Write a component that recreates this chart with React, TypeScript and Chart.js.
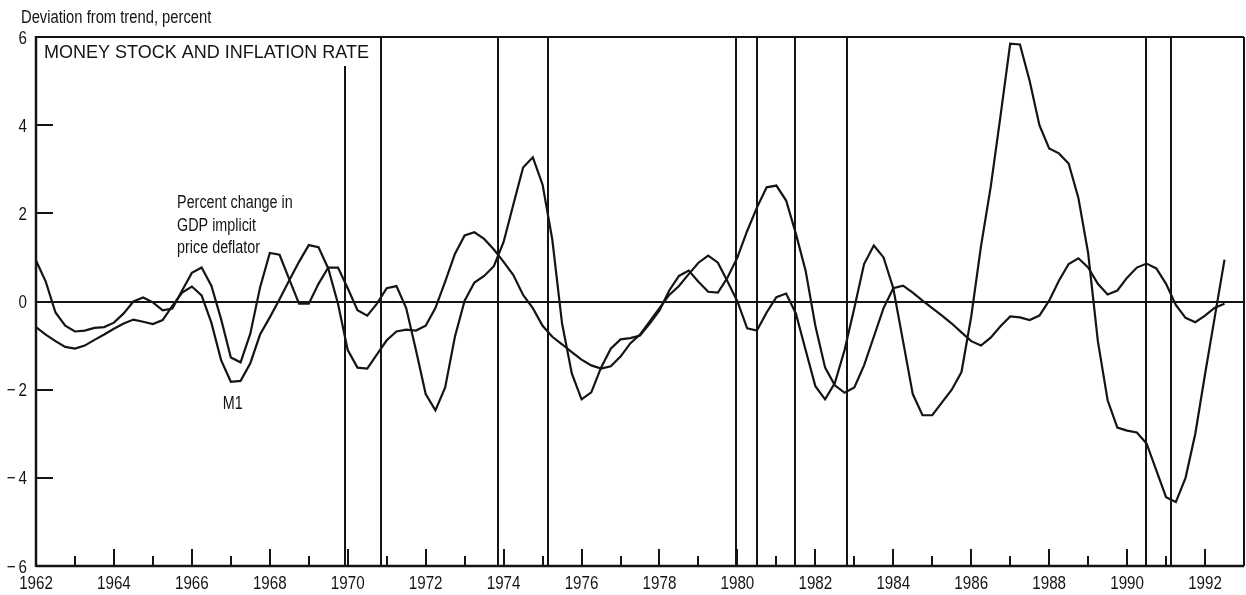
import React, { useEffect, useRef } from 'react';
import { Chart, registerables } from 'chart.js';

Chart.register(...registerables);

// ---------------- data ----------------
const START_YEAR = 1962; // first quarter plotted: 1962 Q1

// Percent change in GDP implicit price deflator, deviation from trend (quarterly)
const deflatorChange: number[] = [
  0.93, 0.45, -0.25, -0.55, -0.68, -0.66, -0.6, -0.58, -0.48, -0.27,
  0.0, 0.09, -0.02, -0.2, -0.16, 0.25, 0.65, 0.77, 0.36, -0.4,
  -1.27, -1.38, -0.73, 0.32, 1.1, 1.06, 0.5, -0.05, -0.05, 0.4,
  0.77, 0.77, 0.3, -0.2, -0.32, -0.05, 0.3, 0.35, -0.15, -1.1,
  -2.1, -2.47, -1.95, -0.8, 0.02, 0.43, 0.58, 0.8, 1.35, 2.2,
  3.04, 3.27, 2.65, 1.4, -0.5, -1.63, -2.22, -2.06, -1.5, -1.07,
  -0.86, -0.83, -0.77, -0.5, -0.2, 0.25, 0.58, 0.7, 0.45, 0.22,
  0.2, 0.55, 1.0, 1.6, 2.13, 2.59, 2.63, 2.29, 1.54, 0.7,
  -0.55, -1.5, -1.9, -2.07, -1.95, -1.45, -0.8, -0.15, 0.3, 0.36,
  0.2, 0.02, -0.15, -0.32, -0.5, -0.7, -0.9, -1.0, -0.82, -0.56,
  -0.34, -0.36, -0.42, -0.32, 0.02, 0.47, 0.85, 0.98, 0.77, 0.4,
  0.16, 0.25, 0.54, 0.77, 0.86, 0.75, 0.4, -0.08, -0.37, -0.47,
  -0.32, -0.14, -0.05,
];

// M1, deviation from trend (quarterly)
const m1Deviation: number[] = [
  -0.58, -0.75, -0.9, -1.03, -1.07, -1.0, -0.87, -0.75, -0.62, -0.5,
  -0.41, -0.46, -0.51, -0.42, -0.1, 0.2, 0.34, 0.14, -0.48, -1.33,
  -1.82, -1.8, -1.4, -0.75, -0.36, 0.05, 0.48, 0.9, 1.28, 1.23,
  0.75, -0.05, -1.1, -1.5, -1.52, -1.2, -0.88, -0.68, -0.64, -0.66,
  -0.55, -0.15, 0.45, 1.08, 1.5, 1.57, 1.42, 1.18, 0.9, 0.6,
  0.15, -0.15, -0.55, -0.8, -0.97, -1.15, -1.32, -1.45, -1.52, -1.47,
  -1.25, -0.95, -0.75, -0.45, -0.15, 0.15, 0.35, 0.62, 0.88, 1.04,
  0.88, 0.45, 0.0, -0.61, -0.66, -0.25, 0.1, 0.18, -0.27, -1.1,
  -1.92, -2.22, -1.85, -1.1, -0.15, 0.85, 1.27, 1.0, 0.3, -0.9,
  -2.1, -2.58, -2.58, -2.29, -2.0, -1.6, -0.34, 1.25, 2.6, 4.2,
  5.85, 5.83, 5.0, 4.0, 3.47, 3.36, 3.13, 2.35, 1.1, -0.9,
  -2.24, -2.86, -2.93, -2.97, -3.22, -3.83, -4.44, -4.55, -4.0, -3.0,
  -1.65, -0.35, 0.95,
];

const quarterDates: number[] = deflatorChange.map((_, i) => START_YEAR + i / 4);

const xTickYears = [1962, 1964, 1966, 1968, 1970, 1972, 1974, 1976, 1978, 1980, 1982, 1984, 1986, 1988, 1990, 1992];
const minorTickYears = [1963, 1965, 1967, 1969, 1971, 1973, 1975, 1977, 1979, 1981, 1983, 1985, 1987, 1989, 1991];
const yTickValues = [-6, -4, -2, 0, 2, 4, 6];

// business-cycle turning points (vertical lines)
const recessionLines = [1969.92, 1970.85, 1973.85, 1975.15, 1979.97, 1980.51, 1981.49, 1982.82, 1990.49, 1991.13];

const chartTitle = 'MONEY STOCK AND INFLATION RATE';
const yAxisTitle = 'Deviation from trend, percent';
const deflatorLabel = ['Percent change in', 'GDP implicit', 'price deflator'];
const m1Label = 'M1';

// ---------------- style ----------------
const INK = '#141414';
const SANS = '"Liberation Sans", Arial, Helvetica, sans-serif';
const CONDENSE = 0.82; // horizontal squeeze for the condensed face
const W = 1246;
const H = 595;

const fmtY = (v: number) => (v < 0 ? `\u2212\u2009${-v}` : `${v}`);

function narrowText(
  ctx: CanvasRenderingContext2D,
  text: string,
  x: number,
  y: number,
  size: number,
  align: CanvasTextAlign,
) {
  ctx.save();
  ctx.font = `${size}px ${SANS}`;
  ctx.textAlign = align;
  ctx.textBaseline = 'alphabetic';
  ctx.translate(x, y);
  ctx.scale(CONDENSE, 1);
  ctx.fillText(text, 0, 0);
  ctx.restore();
}

const decorPlugin = {
  id: 'decor',
  afterDatasetsDraw(chart: any) {
    const { ctx, chartArea: a, scales } = chart;
    const xs = scales.x;
    const ys = scales.y;
    const seg = (x1: number, y1: number, x2: number, y2: number) => {
      ctx.beginPath();
      ctx.moveTo(x1, y1);
      ctx.lineTo(x2, y2);
      ctx.stroke();
    };
    ctx.save();
    ctx.strokeStyle = INK;
    ctx.fillStyle = INK;
    ctx.lineCap = 'butt';

    // title inside plot
    ctx.font = `18px ${SANS}`;
    ctx.textAlign = 'left';
    ctx.textBaseline = 'alphabetic';
    const titleX = a.left + 8;
    const titleY = a.top + 21;
    ctx.fillText(chartTitle, titleX, titleY);
    const titleRight = titleX + ctx.measureText(chartTitle).width + 6;
    const titleBottom = titleY + 8;

    // recession lines
    ctx.lineWidth = 2;
    recessionLines.forEach((d) => {
      const x = Math.round(xs.getPixelForValue(d));
      const top = x < titleRight ? titleBottom : a.top;
      seg(x, top, x, a.bottom);
    });

    // zero line
    const y0 = Math.round(ys.getPixelForValue(0));
    seg(a.left, y0, a.right, y0);

    // frame
    ctx.lineWidth = 2;
    seg(a.left, a.top, a.right, a.top);
    seg(a.right, a.top, a.right, a.bottom);
    ctx.lineWidth = 2.5;
    seg(a.left, a.top - 1, a.left, a.bottom + 1);
    seg(a.left, a.bottom, a.right, a.bottom);

    // y ticks (inward) + labels
    ctx.lineWidth = 2;
    ys.ticks.forEach((t: any, i: number) => {
      const y = ys.getPixelForTick(i);
      if (t.value !== ys.min && t.value !== ys.max) seg(a.left, Math.round(y), a.left + 17, Math.round(y));
      narrowText(ctx, fmtY(t.value), a.left - 9, y + 6.6, 18.5, 'right');
    });
    // x ticks (inward) + labels
    xs.ticks.forEach((t: any, i: number) => {
      const x = xs.getPixelForTick(i);
      if (t.value !== xs.min) seg(Math.round(x), a.bottom, Math.round(x), a.bottom - 17);
      narrowText(ctx, String(t.value), x, a.bottom + 23, 18.5, 'center');
    });
    minorTickYears.forEach((yr) => {
      const x = Math.round(xs.getPixelForValue(yr));
      seg(x, a.bottom, x, a.bottom - 10);
    });

    // axis unit label
    narrowText(ctx, yAxisTitle, 21, 23, 18, 'left');

    // series labels
    const lx = xs.getPixelForValue(1965.62);
    const ly = ys.getPixelForValue(2.11);
    deflatorLabel.forEach((t, i) => narrowText(ctx, t, lx, ly + i * 22.5, 17.5, 'left'));
    narrowText(ctx, m1Label, xs.getPixelForValue(1967.05), ys.getPixelForValue(-2.43), 17.5, 'center');

    ctx.restore();
  },
};

export default function App() {
  const ref = useRef<HTMLCanvasElement | null>(null);

  useEffect(() => {
    if (!ref.current) return;
    const chart = new Chart(ref.current, {
      type: 'line',
      data: {
        datasets: [
          {
            label: 'Percent change in GDP implicit price deflator',
            data: quarterDates.map((x, i) => ({ x, y: deflatorChange[i] })),
            borderColor: INK,
            borderWidth: 2.2,
            pointRadius: 0,
            tension: 0,
            fill: false,
          },
          {
            label: 'M1',
            data: quarterDates.map((x, i) => ({ x, y: m1Deviation[i] })),
            borderColor: INK,
            borderWidth: 2.2,
            pointRadius: 0,
            tension: 0,
            fill: false,
          },
        ],
      },
      options: {
        animation: false,
        responsive: false,
        devicePixelRatio: 1,
        layout: { padding: { top: 37, right: 2, left: 0, bottom: 0 } },
        plugins: {
          legend: { display: false },
          tooltip: { enabled: false },
          title: { display: false },
        },
        scales: {
          x: {
            type: 'linear',
            min: 1962,
            max: 1993,
            grid: { display: false, drawTicks: false },
            border: { display: false },
            afterBuildTicks: (scale: any) => {
              scale.ticks = xTickYears.map((v) => ({ value: v }));
            },
            afterFit: (scale: any) => {
              scale.height = 29;
            },
            ticks: { display: false, autoSkip: false, maxRotation: 0 },
          },
          y: {
            type: 'linear',
            min: -6,
            max: 6,
            grid: { display: false, drawTicks: false },
            border: { display: false },
            afterBuildTicks: (scale: any) => {
              scale.ticks = yTickValues.map((v) => ({ value: v }));
            },
            afterFit: (scale: any) => {
              scale.width = 36;
            },
            ticks: { display: false },
          },
        },
      },
      plugins: [decorPlugin],
    });
    return () => chart.destroy();
  }, []);

  return (
    <div style={{ position: 'fixed', left: 0, top: 0, width: W, height: H, background: '#fff' }}>
      <canvas ref={ref} width={W} height={H} style={{ display: 'block', width: W, height: H }} />
    </div>
  );
}
